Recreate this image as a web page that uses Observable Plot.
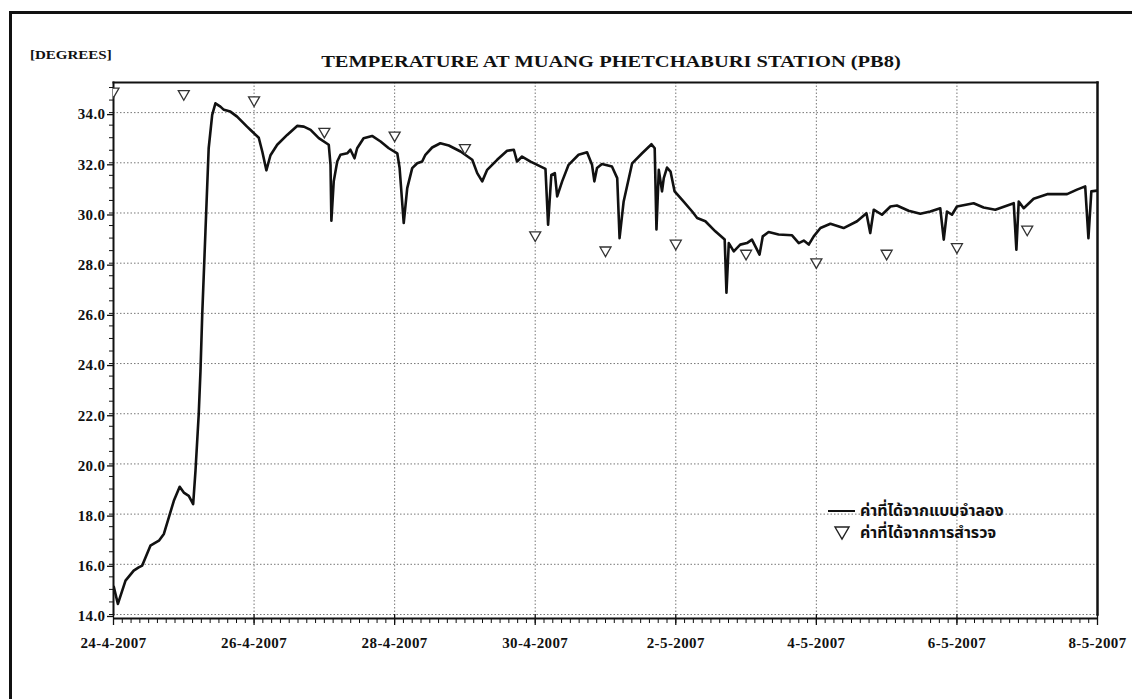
<!DOCTYPE html>
<html>
<head>
<meta charset="utf-8">
<script src="https://cdn.jsdelivr.net/npm/d3@7"></script>
<script src="https://cdn.jsdelivr.net/npm/@observablehq/plot@0.6"></script>
<style>
  body { margin: 0; background: #fff; }
  #wrap { position: relative; width: 1132px; height: 699px; overflow: hidden; background: #fff; }
  #border { position: absolute; left: 9px; top: 11px; width: 1200px; height: 800px; border: 3px solid #111; box-sizing: border-box; }
  #chart { position: absolute; left: 0; top: 0; }
  .serif { font-family: "Liberation Serif", "Times New Roman", serif; font-weight: bold; color: #111; white-space: nowrap; }
  #units { position: absolute; left: 30px; top: 48px; font-size: 12.5px; transform: scaleX(1.2); transform-origin: 0 0; }
  #title { position: absolute; left: 611px; top: 52px; font-size: 16.5px; transform: translateX(-50%) scaleX(1.24); transform-origin: 50% 0; }
  #legend { position: absolute; left: 826px; top: 500px; font-family: "Noto Sans Thai", "Loma", "Tahoma", "DejaVu Sans", sans-serif; font-weight: bold; font-size: 16px; color: #111; }
  #legend div { display: flex; align-items: center; height: 22px; white-space: nowrap; }
  #legend svg { margin-right: 4px; }
</style>
</head>
<body>
<div id="wrap">
  <div id="border"></div>
  <div id="chart"></div>
  <div id="units" class="serif">[DEGREES]</div>
  <div id="title" class="serif">TEMPERATURE AT MUANG PHETCHABURI STATION (PB8)</div>
  <div id="legend">
    <div><svg width="30" height="10"><line x1="2" y1="5" x2="29" y2="5" stroke="#111" stroke-width="2"/></svg><span id="lg1"></span></div>
    <div><svg width="30" height="16"><path d="M9,2 L23,2 L16,14 Z" fill="none" stroke="#222" stroke-width="1.4"/></svg><span id="lg2"></span></div>
  </div>
</div>
<script>
// Series names (legend)
const seriesModel = "ค่าที่ได้จากแบบจำลอง";
const seriesSurvey = "ค่าที่ได้จากการสำรวจ";

// Modelled temperature: hours after 24-4-2007 00:00 and degrees
const modelHours = [
  0.1, 1.5, 4.1, 6.9, 8.6, 9.8, 12.6, 15.5, 17.2, 18.9, 20.6, 22.6, 24.0, 25.7, 27.2, 28.0,
  29.1, 29.7, 30.3, 31.4, 32.5, 33.7, 34.8, 36.5, 37.7, 39.9, 42.2, 45.6, 46.8, 49.6, 50.8, 52.2,
  53.6, 55.9, 59.3, 62.7, 65.0, 67.3, 70.1, 73.5, 74.1, 74.4, 75.2, 76.4, 77.5, 79.8, 80.9, 82.3,
  83.2, 85.4, 88.3, 91.2, 94.0, 96.9, 97.7, 99.1, 100.3, 102.0, 103.7, 105.4, 106.5, 108.8, 111.6, 114.5,
  118.5, 122.5, 124.2, 125.9, 127.6, 131.0, 134.4, 136.7, 137.8, 139.5, 142.4, 147.5, 148.4, 149.5, 150.7, 151.5,
  153.2, 155.4, 158.8, 161.7, 163.4, 164.2, 165.1, 166.8, 170.2, 172.0, 172.8, 174.2, 177.1, 180.5, 183.7, 184.8,
  185.4, 186.2, 187.3, 187.9, 189.0, 190.2, 191.6, 194.1, 197.6, 199.3, 202.1, 205.5, 208.7, 209.3, 210.1, 211.8,
  214.0, 216.3, 218.0, 220.6, 221.7, 223.7, 227.1, 231.7, 234.0, 235.7, 237.4, 239.1, 241.4, 244.8, 249.3, 253.9,
  257.1, 258.4, 259.6, 262.4, 265.3, 267.5, 271.5, 275.5, 278.9, 282.3, 283.5, 284.6, 286.3, 288.0, 293.7, 297.1,
  301.1, 307.4, 308.3, 309.1, 310.8, 314.2, 318.8, 325.6, 329.0, 331.8, 332.9, 333.9, 335.8
];
const modelTemp = [
  15.1, 14.42, 15.35, 15.75, 15.88, 15.95, 16.74, 16.94, 17.21, 17.87, 18.53, 19.09, 18.86, 18.73, 18.4, 19.73,
  21.98, 23.7, 25.96, 29.27, 32.58, 33.91, 34.37, 34.24, 34.11, 34.04, 33.84, 33.44, 33.31, 33.0, 32.45, 31.7,
  32.3, 32.72, 33.11, 33.47, 33.44, 33.31, 32.98, 32.72, 31.92, 29.69, 31.26, 32.05, 32.32, 32.38, 32.52, 32.18,
  32.58, 32.98, 33.07, 32.85, 32.58, 32.38, 31.79, 29.6, 30.99, 31.79, 31.98, 32.05, 32.32, 32.61, 32.78, 32.69,
  32.45, 32.12, 31.59, 31.26, 31.72, 32.12, 32.48, 32.52, 32.05, 32.25, 32.05, 31.76, 29.53, 31.52, 31.59, 30.66,
  31.26, 31.92, 32.32, 32.42, 31.92, 31.26, 31.79, 31.95, 31.85, 31.39, 29.0, 30.46, 31.98, 32.38, 32.74, 32.58,
  29.34, 31.72, 30.86, 31.39, 31.81, 31.65, 30.86, 30.53, 30.06, 29.8, 29.67, 29.27, 28.94, 26.82, 28.8, 28.47,
  28.74, 28.8, 28.94, 28.34, 29.07, 29.24, 29.14, 29.11, 28.8, 28.9, 28.74, 29.07, 29.4, 29.57, 29.4, 29.67,
  29.99, 29.2, 30.13, 29.93, 30.26, 30.3, 30.09, 29.97, 30.06, 30.19, 28.94, 30.06, 29.93, 30.26, 30.39, 30.22,
  30.13, 30.39, 28.54, 30.46, 30.19, 30.57, 30.75, 30.75, 30.93, 31.06, 29.0, 30.86, 30.89
];

// Surveyed temperature, one reading per day at 00:00
const surveyDates = [
  "2007-04-24", "2007-04-25", "2007-04-26", "2007-04-27", "2007-04-28", "2007-04-29", "2007-04-30",
  "2007-05-01", "2007-05-02", "2007-05-03", "2007-05-04", "2007-05-05", "2007-05-06", "2007-05-07"
];
const surveyTemp = [34.8, 34.7, 34.45, 33.2, 33.05, 32.55, 29.07, 28.47, 28.74, 28.34, 28.0, 28.34, 28.6, 29.3];

// Axis ticks
const xTickDates = ["2007-04-24", "2007-04-26", "2007-04-28", "2007-04-30", "2007-05-02", "2007-05-04", "2007-05-06", "2007-05-08"];
const yTicks = [14, 16, 18, 20, 22, 24, 26, 28, 30, 32, 34];

const start = Date.UTC(2007, 3, 24);
const model = modelHours.map((h, i) => ({time: new Date(start + h * 3600e3), temp: modelTemp[i]}));
const survey = surveyDates.map((d, i) => ({time: new Date(d + "T00:00Z"), temp: surveyTemp[i]}));
const xTicks = xTickDates.map(d => new Date(d + "T00:00Z"));
const xDomain = [xTicks[0], xTicks[xTicks.length - 1]];
const xMinor = d3.utcHour.every(3).range(xDomain[0], new Date(+xDomain[1] + 1));
const yMinor = d3.range(14, 35.01, 0.5);

// Downward-pointing open triangle
const triangleDown = {
  draw(context, size) {
    const r = Math.sqrt(size / Math.PI);
    context.moveTo(-r, -r * 0.8);
    context.lineTo(r, -r * 0.8);
    context.lineTo(0, r * 0.95);
    context.closePath();
  }
};

const grid = {stroke: "#777", strokeOpacity: 1, strokeWidth: 1, strokeDasharray: "1.5,2"};

const chart = Plot.plot({
  width: 1132,
  height: 699,
  marginLeft: 113,
  marginRight: 35,
  marginTop: 82,
  marginBottom: 85,
  style: {fontFamily: "'Liberation Serif', 'Times New Roman', serif", fontSize: "15px", fontWeight: "bold", color: "#111", letterSpacing: "0.4px", background: "transparent"},
  x: {type: "utc", domain: xDomain, label: null},
  y: {domain: [14, 35.2], label: null},
  marks: [
    Plot.gridY(yTicks, grid),
    Plot.gridX(xTicks, grid),
    Plot.axisY(yMinor, {tickSize: 4, tickFormat: () => "", stroke: "#111"}),
    Plot.axisY(yTicks, {tickSize: 6, tickPadding: 2, dy: 2, tickFormat: d3.format(".1f"), stroke: "#111", strokeWidth: 1.3}),
    Plot.axisX(xMinor, {tickSize: 5, dy: 4, tickFormat: () => "", stroke: "#111"}),
    Plot.axisX(xTicks, {tickSize: 11, tickPadding: 12, tickFormat: d3.utcFormat("%-d-%-m-%Y"), stroke: "#111", strokeWidth: 1.3}),
    Plot.ruleY([14], {dy: 4, stroke: "#111", strokeWidth: 1.8}),
    Plot.frame({anchor: "top", stroke: "#111", strokeWidth: 2}),
    Plot.frame({anchor: "left", stroke: "#111", strokeWidth: 2}),
    Plot.frame({anchor: "right", stroke: "#111", strokeWidth: 2.5}),
    Plot.line(model, {x: "time", y: "temp", stroke: "#111", strokeWidth: 2.6, strokeLinejoin: "round", clip: true}),
    Plot.dot(survey, {x: "time", y: "temp", symbol: triangleDown, r: 5.5, stroke: "#333", strokeWidth: 1.3, fill: "white", clip: true})
  ]
});

document.getElementById("chart").appendChild(chart);
document.getElementById("lg1").textContent = seriesModel;
document.getElementById("lg2").textContent = seriesSurvey;
</script>
</body>
</html>
